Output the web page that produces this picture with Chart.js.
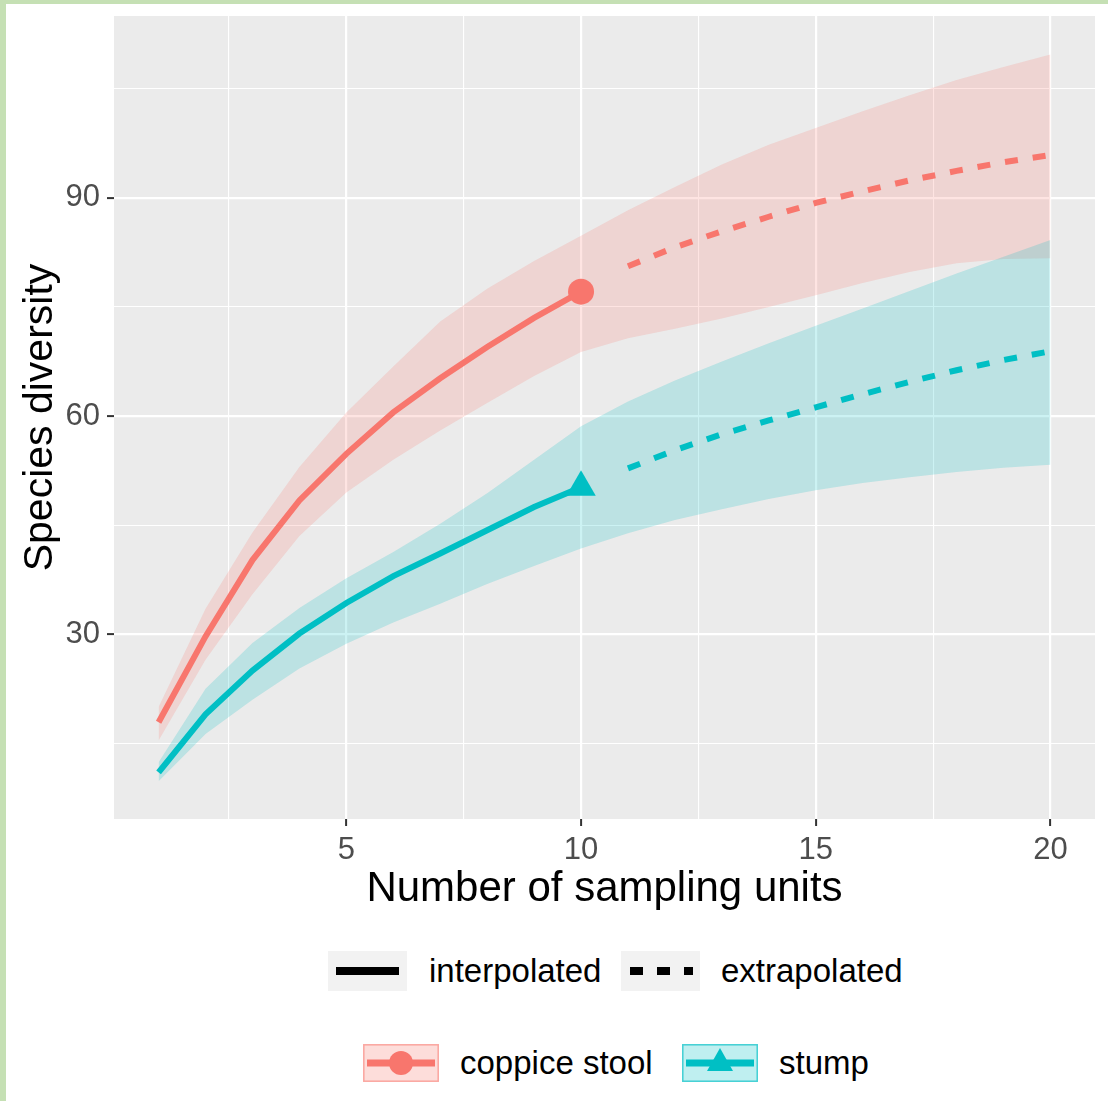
<!DOCTYPE html>
<html>
<head>
<meta charset="utf-8">
<script src="https://cdn.jsdelivr.net/npm/chart.js@4.4.1/dist/chart.umd.min.js"></script>
<style>
  html, body { margin: 0; padding: 0; background: #ffffff; }
  body { width: 1108px; height: 1101px; position: relative; overflow: hidden;
         font-family: "Liberation Sans", Arial, sans-serif; }
  #frameL { position: absolute; left: 0; top: 0; width: 6px; height: 1101px; background: #c5e0b4; }
  #frameT { position: absolute; left: 0; top: 0; width: 1108px; height: 4px; background: #c5e0b4; }
  #wrap { position: absolute; left: 0; top: 0; width: 1108px; height: 925px; }
  .key { position: absolute; }
  .lab { position: absolute; font-size: 33px; color: #000; white-space: nowrap; }
</style>
</head>
<body>
<div id="wrap"><canvas id="iNextChart" width="1108" height="925"></canvas></div>
<div id="frameL"></div>
<div id="frameT"></div>

<!-- legend: line type -->
<svg class="key" style="left:328px;top:951px" width="79" height="40">
  <rect width="79" height="40" fill="#f2f2f2"/>
  <line x1="8" y1="20" x2="71" y2="20" stroke="#000" stroke-width="8"/>
</svg>
<div class="lab" style="left:429px;top:951px;line-height:40px">interpolated</div>
<svg class="key" style="left:621px;top:951px" width="79" height="40">
  <rect width="79" height="40" fill="#f2f2f2"/>
  <line x1="9" y1="20" x2="72" y2="20" stroke="#000" stroke-width="8" stroke-dasharray="13 14"/>
</svg>
<div class="lab" style="left:721px;top:951px;line-height:40px">extrapolated</div>

<!-- legend: assemblage -->
<svg class="key" style="left:363px;top:1044px" width="76" height="38">
  <rect x="0.75" y="0.75" width="74.5" height="36.5" fill="rgba(248,118,109,0.25)" stroke="rgba(248,118,109,0.6)" stroke-width="1.5"/>
  <line x1="4" y1="19" x2="72" y2="19" stroke="#F8766D" stroke-width="7"/>
  <circle cx="38" cy="19" r="12" fill="#F8766D"/>
</svg>
<div class="lab" style="left:460px;top:1044px;line-height:38px">coppice stool</div>
<svg class="key" style="left:682px;top:1044px" width="76" height="38">
  <rect x="0.75" y="0.75" width="74.5" height="36.5" fill="rgba(0,191,196,0.25)" stroke="rgba(0,191,196,0.7)" stroke-width="1.5"/>
  <line x1="4" y1="19" x2="72" y2="19" stroke="#00BFC4" stroke-width="7"/>
  <polygon points="38,4 51,27 25,27" fill="#00BFC4"/>
</svg>
<div class="lab" style="left:779px;top:1044px;line-height:38px">stump</div>

<script>
// sampling units 1..20 (1-10 interpolated, 11-20 extrapolated)
const units = [1, 2, 3, 4, 5, 6, 7, 8, 9, 10, 11, 12, 13, 14, 15, 16, 17, 18, 19, 20];
const observedAt = 10;

const coppiceMean  = [17.9, 29.7, 40.2, 48.4, 54.8, 60.5, 65.2, 69.5, 73.5, 77.1,
                      80.6, 83.2, 85.4, 87.4, 89.3, 90.9, 92.4, 93.7, 94.9, 95.9];
const coppiceLower = [15.4, 26.5, 35.5, 43.5, 49.5, 54.0, 58.0, 61.8, 65.5, 68.8,
                      70.7, 72.0, 73.4, 75.0, 76.6, 78.3, 79.8, 81.0, 81.6, 81.7];
const coppiceUpper = [20.0, 33.5, 44.0, 53.0, 60.5, 66.8, 73.0, 77.5, 81.3, 84.8,
                      88.3, 91.5, 94.6, 97.3, 99.6, 101.9, 104.1, 106.2, 108.0, 109.7];

const stumpMean  = [11.0, 19.0, 25.0, 30.1, 34.3, 38.0, 41.1, 44.3, 47.5, 50.2,
                    52.8, 55.3, 57.5, 59.4, 61.2, 63.0, 64.7, 66.3, 67.7, 68.9];
const stumpLower = [9.8, 16.3, 21.0, 25.3, 28.7, 31.6, 34.2, 36.9, 39.4, 41.8,
                    43.9, 45.7, 47.2, 48.6, 49.8, 50.8, 51.6, 52.3, 52.9, 53.3];
const stumpUpper = [12.4, 22.5, 28.8, 33.6, 37.7, 41.3, 45.2, 49.4, 54.0, 58.6,
                    62.0, 64.9, 67.5, 70.0, 72.4, 74.8, 77.2, 79.6, 81.9, 84.2];

const xGridTicks = [2.5, 5, 7.5, 10, 12.5, 15, 17.5, 20];
const xTickLabels = [5, 10, 15, 20];
const yGridTicks = [15, 30, 45, 60, 75, 90, 105];
const yTickLabels = [30, 60, 90];

const COPPICE = '#F8766D';
const STUMP = '#00BFC4';
const FONT = '"Liberation Sans", Arial, sans-serif';

const pts = (arr, from, to) => units.slice(from, to).map((u, i) => ({ x: u, y: arr[from + i] }));
const obsIdx = units.indexOf(observedAt);

const isMajor = (list, v) => list.includes(v);

function scaleOpts(gridTicks, labels, min, max) {
  return {
    type: 'linear',
    min: min,
    max: max,
    afterBuildTicks: s => { s.ticks = gridTicks.map(v => ({ value: v })); },
    border: { display: false },
    grid: {
      color: '#ffffff',
      lineWidth: c => isMajor(labels, c.tick.value) ? 2.2 : 1.1,
      tickColor: c => isMajor(labels, c.tick.value) ? '#333333' : 'rgba(0,0,0,0)',
      tickLength: 7,
      tickWidth: 2
    },
    ticks: {
      autoSkip: false,
      maxRotation: 0,
      color: '#4d4d4d',
      font: { family: FONT, size: 31 },
      padding: 6,
      callback: v => isMajor(labels, v) ? String(v) : ''
    }
  };
}

const panelBg = {
  id: 'panelBg',
  beforeDraw(chart) {
    const { ctx, chartArea: a } = chart;
    ctx.save();
    ctx.fillStyle = '#ebebeb';
    ctx.fillRect(a.left, a.top, a.right - a.left, a.bottom - a.top);
    ctx.restore();
  }
};

// fixed axis boxes so the panel sits where the ggplot panel does
const xOpts = scaleOpts(xGridTicks, xTickLabels, 0.05, 20.95);
xOpts.afterFit = s => { s.height = 106; s.paddingLeft = 0; s.paddingRight = 0; };
xOpts.title = {
  display: true, text: 'Number of sampling units', color: '#000000',
  font: { family: FONT, size: 42, lineHeight: 1 },
  padding: { top: 0, bottom: 15 }
};

const yOpts = scaleOpts(yGridTicks, yTickLabels, 4.6, 115.0);
yOpts.afterFit = s => { s.width = 114; s.paddingTop = 0; s.paddingBottom = 0; };
yOpts.ticks.padding = 7;
yOpts.title = {
  display: true, text: 'Species diversity', color: '#000000',
  font: { family: FONT, size: 41, lineHeight: 1 },
  padding: { top: 20, bottom: 0 }
};

const band = (arr, colour, fill, order) => ({
  data: pts(arr, 0, units.length), borderWidth: 0, pointRadius: 0,
  backgroundColor: colour, fill: fill, order: order
});
const line = (arr, from, to, colour, dash) => ({
  data: pts(arr, from, to), borderColor: colour, borderWidth: 6, pointRadius: 0,
  borderDash: dash, borderCapStyle: 'butt', fill: false, tension: 0, order: 1
});

new Chart(document.getElementById('iNextChart'), {
  type: 'line',
  data: {
    datasets: [
      band(coppiceLower, 'rgba(0,0,0,0)', false, 3),
      band(coppiceUpper, 'rgba(248,118,109,0.2)', '-1', 3),
      band(stumpLower, 'rgba(0,0,0,0)', false, 2),
      band(stumpUpper, 'rgba(0,191,196,0.2)', '-1', 2),
      line(coppiceMean, 0, obsIdx + 1, COPPICE, []),
      line(coppiceMean, obsIdx + 1, units.length, COPPICE, [13, 15]),
      line(stumpMean, 0, obsIdx + 1, STUMP, []),
      line(stumpMean, obsIdx + 1, units.length, STUMP, [13, 15]),
      { data: [{ x: observedAt, y: coppiceMean[obsIdx] }], showLine: false, pointStyle: 'circle',
        pointRadius: 13, pointBorderWidth: 0, pointBackgroundColor: COPPICE, order: 0 },
      { data: [{ x: observedAt, y: stumpMean[obsIdx] }], showLine: false, pointStyle: 'triangle',
        pointRadius: 17, pointBorderWidth: 0, pointBackgroundColor: STUMP, order: 0 }
    ]
  },
  options: {
    responsive: false,
    animation: false,
    devicePixelRatio: 1,
    layout: { autoPadding: false, padding: { top: 16, right: 13, left: 0, bottom: 0 } },
    plugins: { legend: { display: false }, tooltip: { enabled: false } },
    scales: { x: xOpts, y: yOpts }
  },
  plugins: [panelBg]
});
</script>
</body>
</html>
